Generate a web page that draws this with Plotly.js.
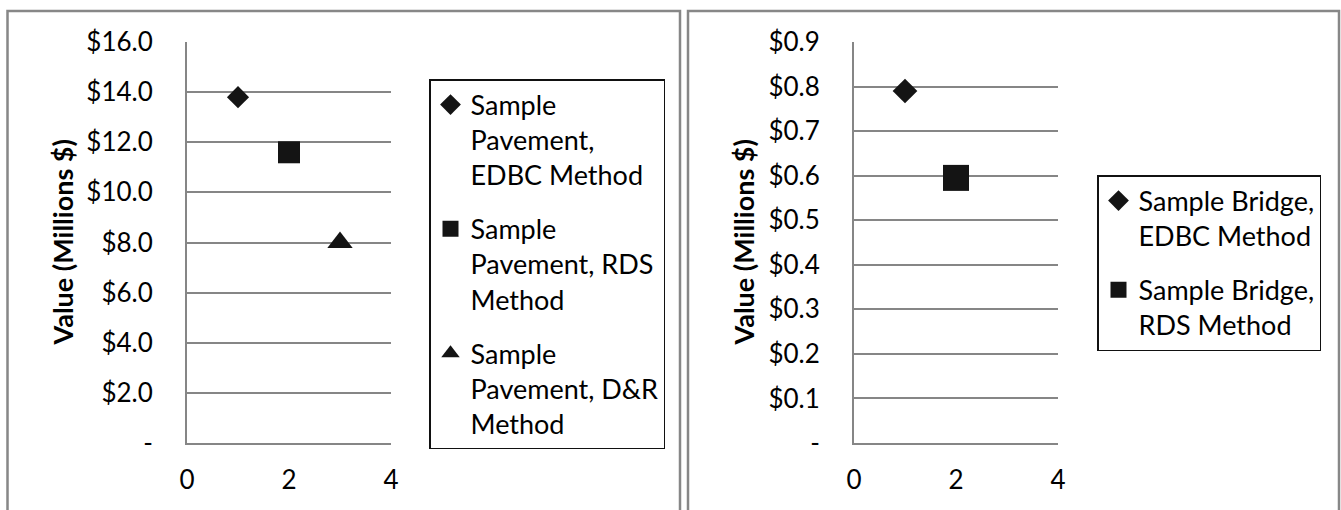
<!DOCTYPE html>
<html>
<head>
<meta charset="utf-8">
<script src="https://cdn.plot.ly/plotly-3.0.1.min.js"></script>
<style>
  html, body { margin: 0; padding: 0; background: #fff; }
  #chart { width: 1341px; height: 510px; }
</style>
</head>
<body>
<div id="chart"></div>
<script>
// Pavement valuation (left panel)
const pavementNames = [
  "Sample<br>Pavement,<br>EDBC Method",
  "Sample<br>Pavement, RDS<br>Method",
  "Sample<br>Pavement, D&R<br>Method"
];
const pavementX = [1, 2, 3];
const pavementValues = [13.8, 11.6, 8.0];
const pavementTicks = [0, 2, 4, 6, 8, 10, 12, 14, 16];
const pavementTickText = ["-", "$2.0", "$4.0", "$6.0", "$8.0", "$10.0", "$12.0", "$14.0", "$16.0"];

// Bridge valuation (right panel)
const bridgeNames = [
  "Sample Bridge,<br>EDBC Method",
  "Sample Bridge,<br>RDS Method"
];
const bridgeX = [1, 2];
const bridgeValues = [0.79, 0.595];
const bridgeTicks = [0, 0.1, 0.2, 0.3, 0.4, 0.5, 0.6, 0.7, 0.8, 0.9];
const bridgeTickText = ["-", "$0.1", "$0.2", "$0.3", "$0.4", "$0.5", "$0.6", "$0.7", "$0.8", "$0.9"];

const xTicks = [0, 2, 4];
const yTitle = "Value (Millions $)";

const W = 1341, H = 510;
const fx = p => p / W;
const fy = p => 1 - p / H;

const FONT = "Lato, 'Open Sans', sans-serif";
const GRID = "#868686";
const INK = "#141414";

const symbols = ["diamond", "square", "triangle-up"];
const pavementSizes = [17, 22, 22];
const bridgeSizes = [19, 26];

const traces = [];
pavementNames.forEach((name, i) => {
  traces.push({
    type: "scatter", mode: "markers",
    x: [pavementX[i]], y: [pavementValues[i]],
    name: name, legendgroup: "p" + i, legend: "legend",
    xaxis: "x", yaxis: "y",
    marker: { symbol: symbols[i], size: pavementSizes[i], color: INK },
    hoverinfo: "y"
  });
});
bridgeNames.forEach((name, i) => {
  traces.push({
    type: "scatter", mode: "markers",
    x: [bridgeX[i]], y: [bridgeValues[i]],
    name: name, legendgroup: "b" + i, legend: "legend2",
    xaxis: "x2", yaxis: "y2",
    marker: { symbol: symbols[i], size: bridgeSizes[i], color: INK },
    hoverinfo: "y"
  });
});

function xAxis(x0, x1, anchor) {
  return {
    domain: [fx(x0), fx(x1)], range: [0, 4], anchor: anchor,
    tickvals: xTicks, ticktext: xTicks.map(String),
    showgrid: false, zeroline: false,
    showline: true, linecolor: GRID, linewidth: 2,
    ticks: "", ticklabelstandoff: 13,
    tickfont: { family: FONT, size: 26, color: "#000" },
    fixedrange: true
  };
}
function yAxis(range, vals, text, anchor) {
  return {
    domain: [fy(443), fy(42)], range: range, anchor: anchor,
    tickvals: vals, ticktext: text,
    showgrid: true, gridcolor: GRID, gridwidth: 2,
    zeroline: false, showline: true, linecolor: GRID, linewidth: 2,
    ticks: "", ticklabelstandoff: 27,
    tickfont: { family: FONT, size: 26, color: "#000" },
    fixedrange: true
  };
}

function legendBox(x, y) {
  return {
    x: fx(x), y: fy(y), xanchor: "left", yanchor: "top",
    xref: "paper", yref: "paper",
    bgcolor: "#fff", bordercolor: "#111", borderwidth: 1.5,
    font: { family: FONT, size: 27, color: "#000" },
    tracegroupgap: 16, itemsizing: "trace", valign: "top"
  };
}

function panel(x0, x1) {
  return {
    type: "path", xref: "paper", yref: "paper",
    path: `M ${fx(x0)} 0 L ${fx(x0)} ${fy(11)} L ${fx(x1)} ${fy(11)} L ${fx(x1)} 0`,
    line: { color: "#878787", width: 2.5 }
  };
}

function axisTitle(x) {
  return {
    text: "<b>" + yTitle + "</b>", textangle: -90,
    xref: "paper", yref: "paper", x: fx(x), y: fy(242.5),
    xanchor: "center", yanchor: "middle", showarrow: false,
    font: { family: FONT, size: 27, color: "#000" }
  };
}

const layout = {
  width: W, height: H,
  margin: { l: 0, r: 0, t: 0, b: 0 },
  paper_bgcolor: "#fff", plot_bgcolor: "#fff",
  showlegend: true,
  xaxis: xAxis(187, 391, "y"),
  yaxis: yAxis([0, 16], pavementTicks, pavementTickText, "x"),
  xaxis2: xAxis(854, 1058, "y2"),
  yaxis2: yAxis([0, 0.9], bridgeTicks, bridgeTickText, "x2"),
  legend: legendBox(429, 79),
  legend2: legendBox(1097, 175),
  annotations: [axisTitle(62), axisTitle(743)],
  shapes: [panel(7.5, 680), panel(688, 1339)]
};

Plotly.newPlot("chart", traces, layout, { displayModeBar: false, staticPlot: true });
</script>
</body>
</html>
